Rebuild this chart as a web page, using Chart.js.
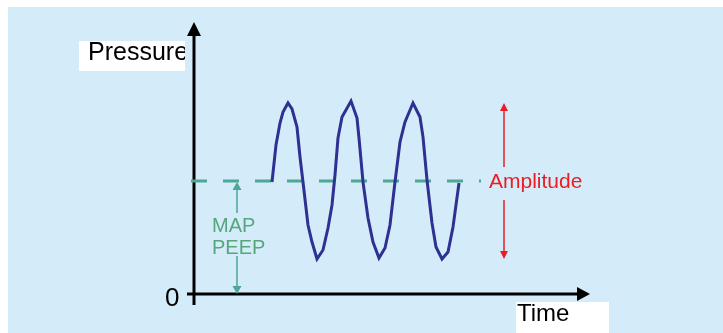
<!DOCTYPE html>
<html>
<head>
<meta charset="utf-8">
<script src="https://cdn.jsdelivr.net/npm/chart.js@4"></script>
<style>body{margin:0;background:#fff}</style>
</head>
<body>
<canvas id="myChart" width="723" height="333"></canvas>
<script>
// dados (tempo e pressão em unidades arbitrárias)
const tempo = [78, 82, 86, 89, 94, 98, 103, 106, 109, 114, 118, 123, 129, 134, 138, 141, 144, 148,
    157, 163, 165, 169, 174, 179, 185, 191, 196, 201, 206, 211,
    219, 226, 229, 233, 238, 242, 248, 254, 259, 265];
const pressao = [112, 149, 171, 182, 191, 185, 167, 137, 112, 69, 52, 35, 44, 66, 89, 119, 156, 177,
    193, 176, 156, 112, 76, 52, 36, 46, 69, 112, 152, 172,
    191, 177, 157, 114, 71, 47, 35, 42, 67, 111];
const linhaMAP = [-3, 287]; // início e fim da linha tracejada
const nivelMAP = 113;
const setaMAP = 43;        // tempo da seta MAP/PEEP
const setaAmp = 310;       // tempo da seta de amplitude
const ampTopo = 191, ampFundo = 35;
const limitesX = [0, 396];
const limitesY = [0, 272];

const azulFundo = '#d4ecf9';
const verde = '#4fa596';
const vermelho = '#ec1c24';

function ponta(ctx, x, y, dx, dy, comp, larg) {
    // desenha a ponta da seta apontando na direção (dx, dy)
    ctx.beginPath();
    ctx.moveTo(x, y);
    ctx.lineTo(x - dx * comp - dy * larg, y - dy * comp - dx * larg);
    ctx.lineTo(x - dx * comp + dy * larg, y - dy * comp + dx * larg);
    ctx.closePath();
    ctx.fill();
}

const fundo = {
    id: 'fundo',
    beforeDraw(chart) {
        const ctx = chart.ctx;
        ctx.save();
        ctx.fillStyle = '#fff';
        ctx.fillRect(0, 0, chart.width, chart.height);
        ctx.fillStyle = azulFundo;
        ctx.fillRect(8, 7, chart.width - 8, chart.height - 7);
        ctx.restore();
    },
    beforeDatasetsDraw(chart) {
        const ctx = chart.ctx;
        const x = chart.scales.x, y = chart.scales.y;
        const x0 = x.getPixelForValue(0), y0 = y.getPixelForValue(0);
        ctx.save();
        ctx.strokeStyle = '#000';
        ctx.fillStyle = '#000';
        ctx.lineWidth = 3;
        // eixo y
        ctx.beginPath();
        ctx.moveTo(x0, y0 + 11);
        ctx.lineTo(x0, chart.chartArea.top + 12);
        ctx.stroke();
        ponta(ctx, x0, chart.chartArea.top, 0, -1, 14, 7);
        // eixo x
        ctx.beginPath();
        ctx.moveTo(x0 - 7, y0);
        ctx.lineTo(chart.chartArea.right - 12, y0);
        ctx.stroke();
        ponta(ctx, chart.chartArea.right, y0, 1, 0, 13, 7);
        ctx.restore();
    },
    afterDraw(chart) {
        const ctx = chart.ctx;
        const x = chart.scales.x, y = chart.scales.y;
        ctx.save();
        ctx.font = '26px "Liberation Sans", Arial, sans-serif';
        ctx.fillStyle = '#000';
        ctx.textBaseline = 'alphabetic';
        ctx.fillText('0', 165, 306);

        // caixas brancas dos títulos
        ctx.fillStyle = '#fff';
        ctx.fillRect(79, 41, 106, 30);
        ctx.fillRect(516, 302, 93, 31);
        ctx.save();
        ctx.beginPath();
        ctx.rect(79, 41, 106, 30);
        ctx.clip();
        ctx.fillStyle = '#000';
        ctx.font = '25px "Liberation Sans", Arial, sans-serif';
        ctx.fillText('Pressure', 88, 60);
        ctx.restore();
        ctx.fillStyle = '#000';
        ctx.font = '24px "Liberation Sans", Arial, sans-serif';
        ctx.fillText('Time', 517, 321);

        // seta MAP / PEEP
        const mx = x.getPixelForValue(setaMAP);
        const mTopo = y.getPixelForValue(nivelMAP - 1), mBase = y.getPixelForValue(0);
        ctx.strokeStyle = verde;
        ctx.fillStyle = verde;
        ctx.lineWidth = 1.5;
        ctx.beginPath();
        ctx.moveTo(mx, mTopo + 7); ctx.lineTo(mx, 213);
        ctx.moveTo(mx, 256); ctx.lineTo(mx, mBase - 7);
        ctx.stroke();
        ponta(ctx, mx, mTopo, 0, -1, 8, 4.5);
        ponta(ctx, mx, mBase, 0, 1, 8, 4.5);
        ctx.fillStyle = '#55a77b';
        ctx.font = '20px "Liberation Sans", Arial, sans-serif';
        ctx.fillText('MAP', 212, 232);
        ctx.fillText('PEEP', 212, 254);

        // seta amplitude
        const ax = x.getPixelForValue(setaAmp);
        const aTopo = y.getPixelForValue(ampTopo), aFundo = y.getPixelForValue(ampFundo);
        ctx.strokeStyle = vermelho;
        ctx.fillStyle = vermelho;
        ctx.beginPath();
        ctx.moveTo(ax, aTopo + 7); ctx.lineTo(ax, 167);
        ctx.moveTo(ax, 200); ctx.lineTo(ax, aFundo - 7);
        ctx.stroke();
        ponta(ctx, ax, aTopo, 0, -1, 8, 4);
        ponta(ctx, ax, aFundo, 0, 1, 8, 4);
        ctx.font = '21px "Liberation Sans", Arial, sans-serif';
        ctx.fillText('Amplitude', 489, 188);
        ctx.restore();
    }
};

const config = {
    type: 'line',
    data: {
        datasets: [
            {
                label: 'Pressão',
                data: tempo.map((t, i) => ({ x: t, y: pressao[i] })),
                borderColor: '#2e3192',
                borderWidth: 3,
                pointRadius: 0,
                tension: 0,
                clip: false
            },
            {
                label: 'MAP',
                data: linhaMAP.map(t => ({ x: t, y: nivelMAP })),
                borderColor: verde,
                borderWidth: 3,
                borderDash: [16, 16],
                pointRadius: 0,
                clip: false
            }
        ]
    },
    options: {
        responsive: false,
        animation: false,
        layout: { padding: { left: 194, right: 133, top: 22, bottom: 39 } },
        plugins: { legend: { display: false }, tooltip: { enabled: false } },
        scales: {
            x: { type: 'linear', min: limitesX[0], max: limitesX[1], display: false },
            y: { type: 'linear', min: limitesY[0], max: limitesY[1], display: false }
        }
    },
    plugins: [fundo]
};

new Chart(document.getElementById('myChart'), config);
</script>
</body>
</html>
